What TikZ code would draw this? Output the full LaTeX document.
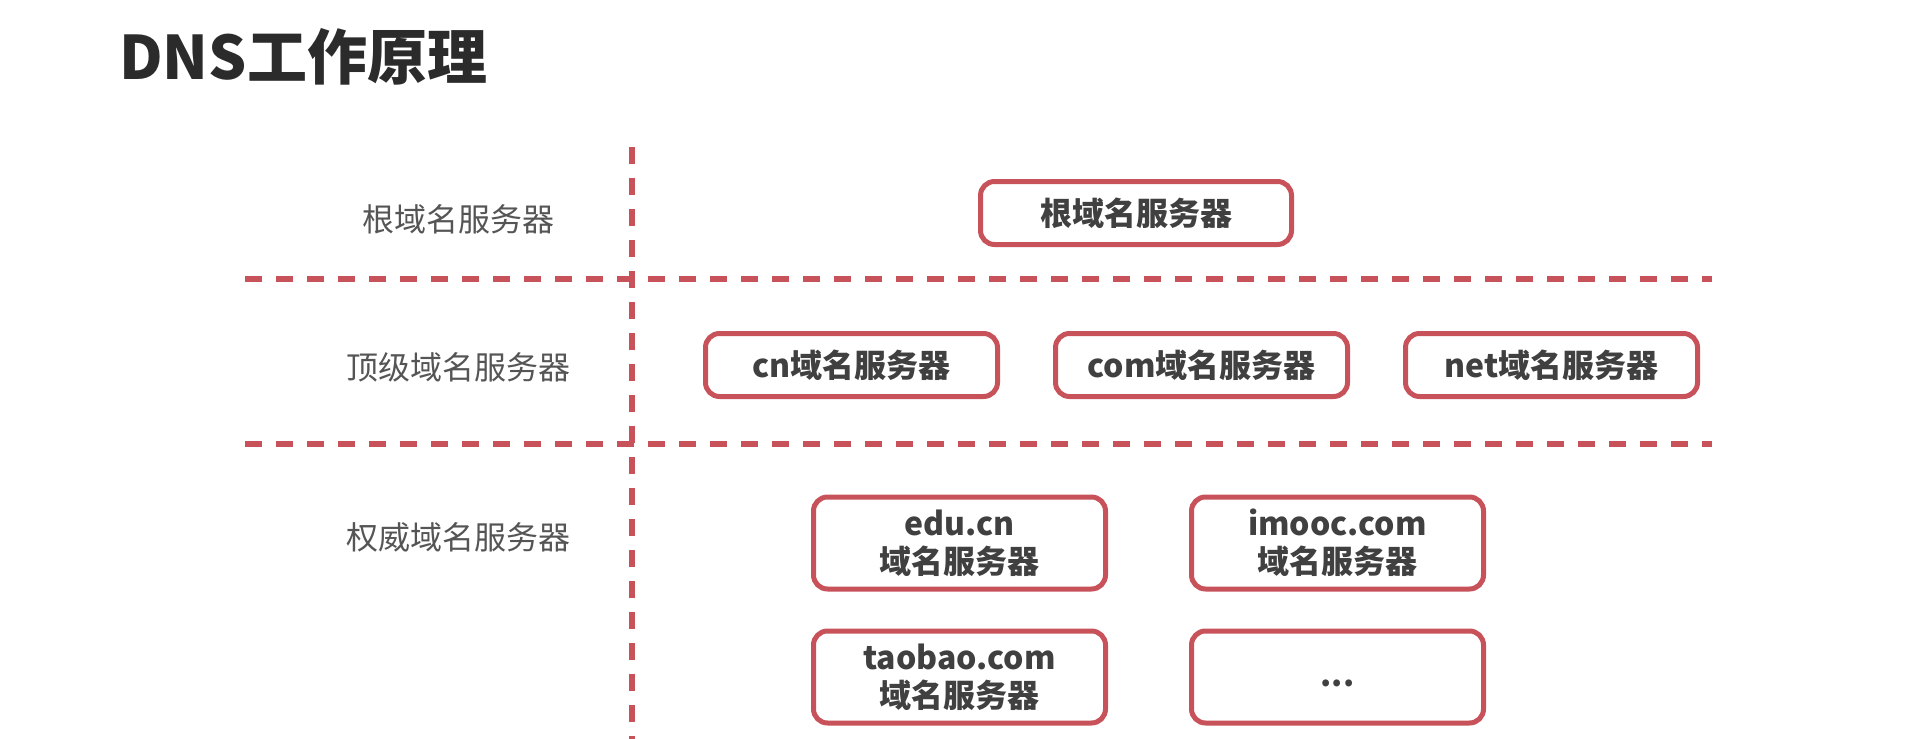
\documentclass[tikz,border=0pt]{standalone}
\usepackage{fontspec}
\setmainfont{Noto Sans CJK SC}
\usetikzlibrary{positioning, shadows}
\definecolor{srvred}{HTML}{C8525A}
\definecolor{srvtext}{HTML}{404040}
\definecolor{lbltext}{HTML}{555555}
\definecolor{titletext}{HTML}{2B2B2B}
\tikzstyle{server} = [rectangle, draw=srvred, line width=5pt, fill=white, rounded corners=14pt, minimum width=292pt, minimum height=63pt, align=center, text=srvtext, font=\fontsize{32pt}{38pt}\selectfont\bfseries, drop shadow={shadow xshift=1.5pt, shadow yshift=-2pt, opacity=0.12, fill=black}]
\tikzstyle{rootsrv} = [server, minimum width=311pt]
\tikzstyle{authsrv} = [server, minimum height=92pt]
\tikzstyle{level} = [text=lbltext, font=\fontsize{32pt}{38pt}\selectfont]
\tikzstyle{sep} = [draw=srvred, line width=6pt, dash pattern=on 17pt off 14pt]

\begin{document}
\begin{tikzpicture}[x=1pt, y=-1pt]
\useasboundingbox (0,0) rectangle (1920,739);
\node [anchor=base west, inner sep=0pt, text=titletext, font=\fontsize{60pt}{66pt}\selectfont\bfseries] (title) at (119,79) {DNS工作原理};
\coordinate (vtop) at (632,147);
\coordinate (vbot) at (632,739);
\coordinate (h1l) at (245,279);
\coordinate (h1r) at (1712,279);
\coordinate (h2l) at (245,444);
\coordinate (h2r) at (1712,444);
\path[sep] (h1l) -- (h1r);
\path[sep] (h2l) -- (h2r);
\path[sep] (vtop) -- (vbot);
\node [level] (lroot) at (458,219) {根域名服务器};
\node [level] (ltld) at (458,367) {顶级域名服务器};
\node [level] (lauth) at (458,537) {权威域名服务器};
\node [rootsrv] (root) at (1136,213) {根域名服务器};
\node [server] (cn) at (851.5,365) {cn域名服务器};
\node [server, right = 53pt of cn] (com) {com域名服务器};
\node [server, right = 53pt of com] (net) {net域名服务器};
\node [authsrv] (edu) at (959.5,543) {edu.cn\\域名服务器};
\node [authsrv, right = 81pt of edu] (imooc) {imooc.com\\域名服务器};
\node [authsrv, below = 37pt of edu] (taobao) {taobao.com\\域名服务器};
\node [authsrv, right = 81pt of taobao] (more) {\raisebox{-9pt}[0pt][0pt]{...}};
\end{tikzpicture}
\end{document}
